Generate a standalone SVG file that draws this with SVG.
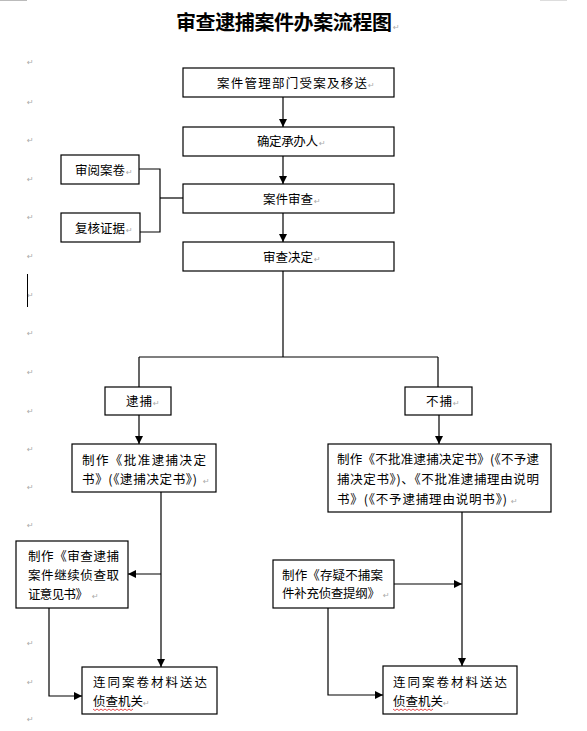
<svg xmlns="http://www.w3.org/2000/svg" width="587" height="731" viewBox="0 0 587 731">
<style>
.bg{fill:#fff}
.box{fill:#fff;stroke:#000;stroke-width:1.2}
.t{font-family:"Noto Sans CJK SC","Noto Sans",sans-serif;font-size:12.5px;fill:#000}
.title{font-family:"Noto Sans CJK SC","Noto Sans",sans-serif;font-size:20px;font-weight:bold;fill:#000}
.pm{font-family:"DejaVu Sans",sans-serif;font-size:8px;fill:#aaa}
.ln{fill:none;stroke:#000;stroke-width:1.2}
.arr{fill:none;stroke:#000;stroke-width:1.2;marker-end:url(#ah)}
.wavy{fill:none;stroke:#e02020;stroke-width:0.8}
</style>
<defs>
<marker id="ah" markerUnits="userSpaceOnUse" markerWidth="8" markerHeight="8" refX="8" refY="4" orient="auto">
<path d="M0,0 L8,4 L0,8 z" fill="#000"/>
</marker>
</defs>
<rect class="bg" x="0" y="0" width="587" height="731"/>
<line x1="0" y1="0.5" x2="27" y2="0.5" stroke="#bbb" stroke-width="1"/>
<line x1="540" y1="0.5" x2="567" y2="0.5" stroke="#ddd" stroke-width="1"/>

<g id="title">
<text class="title" x="176" y="30" textLength="216" lengthAdjust="spacing">审查逮捕案件办案流程图</text>
<text class="pm" x="393" y="30">↵</text>
</g>

<g id="margin-marks">
<text class="pm" x="27" y="65">↵</text>
<text class="pm" x="27" y="105">↵</text>
<text class="pm" x="27" y="143">↵</text>
<text class="pm" x="27" y="182">↵</text>
<text class="pm" x="27" y="220">↵</text>
<text class="pm" x="27" y="259">↵</text>
<text class="pm" x="27" y="298">↵</text>
<text class="pm" x="27" y="336">↵</text>
<text class="pm" x="27" y="375">↵</text>
<text class="pm" x="27" y="414">↵</text>
<text class="pm" x="27" y="452">↵</text>
<text class="pm" x="27" y="490">↵</text>
<text class="pm" x="27" y="528">↵</text>
<text class="pm" x="27" y="646">↵</text>
<text class="pm" x="27" y="685">↵</text>
<text class="pm" x="27" y="722">↵</text>
<line x1="27.5" y1="274" x2="27.5" y2="307" stroke="#000" stroke-width="1"/>
</g>

<g id="connectors">
<path class="arr" d="M283,97 V127"/>
<path class="arr" d="M283,156 V184"/>
<path class="arr" d="M283,213 V242"/>
<path class="ln" d="M139,169 H160 V232 H140"/>
<path class="ln" d="M160,198 H183"/>
<path class="ln" d="M283,271 V357 M139,357 H438 M139,357 V387 M438,357 V387"/>
<path class="arr" d="M139,415 V444"/>
<path class="arr" d="M439,415 V444"/>
<path class="arr" d="M161,492 V667"/>
<path class="arr" d="M161,574 H128"/>
<path class="arr" d="M49,608 V696 H82"/>
<path class="arr" d="M462,512 V666"/>
<path class="arr" d="M394,584 H462"/>
<path class="arr" d="M328,608 V695 H383"/>
</g>

<g id="n-receive">
<rect class="box" x="183" y="68" width="211" height="29"/>
<text class="t" x="217" y="88" textLength="150" lengthAdjust="spacing">案件管理部门受案及移送</text>
<text class="pm" x="368" y="88">↵</text>
</g>
<g id="n-assign">
<rect class="box" x="183" y="127" width="211" height="29"/>
<text class="t" x="257" y="146" textLength="61" lengthAdjust="spacing">确定承办人</text>
<text class="pm" x="319" y="146">↵</text>
</g>
<g id="n-review-file">
<rect class="box" x="61" y="155" width="78" height="29"/>
<text class="t" x="75" y="175" textLength="50" lengthAdjust="spacing">审阅案卷</text>
<text class="pm" x="126" y="175">↵</text>
</g>
<g id="n-case-review">
<rect class="box" x="183" y="184" width="211" height="29"/>
<text class="t" x="263" y="204" textLength="50" lengthAdjust="spacing">案件审查</text>
<text class="pm" x="314" y="204">↵</text>
</g>
<g id="n-recheck">
<rect class="box" x="61" y="213" width="79" height="29"/>
<text class="t" x="75" y="233" textLength="50" lengthAdjust="spacing">复核证据</text>
<text class="pm" x="126" y="233">↵</text>
</g>
<g id="n-decision">
<rect class="box" x="183" y="242" width="211" height="29"/>
<text class="t" x="263" y="262" textLength="50" lengthAdjust="spacing">审查决定</text>
<text class="pm" x="314" y="262">↵</text>
</g>
<g id="n-arrest">
<rect class="box" x="105" y="387" width="66" height="28"/>
<text class="t" x="126" y="406" textLength="26" lengthAdjust="spacing">逮捕</text>
<text class="pm" x="153" y="406">↵</text>
</g>
<g id="n-noarrest">
<rect class="box" x="405" y="387" width="67" height="28"/>
<text class="t" x="426" y="406" textLength="26" lengthAdjust="spacing">不捕</text>
<text class="pm" x="453" y="406">↵</text>
</g>
<g id="n-approve-doc">
<rect class="box" x="72" y="444" width="144" height="48"/>
<text class="t" x="82" y="465" textLength="124" lengthAdjust="spacing">制作《批准逮捕决定</text>
<text class="t" x="82" y="484" textLength="115" lengthAdjust="spacing">书》(《逮捕决定书》)</text>
<text class="pm" x="203" y="484">↵</text>
</g>
<g id="n-continue-doc">
<rect class="box" x="16" y="541" width="112" height="67"/>
<text class="t" x="28" y="561" textLength="91" lengthAdjust="spacing">制作《审查逮捕</text>
<text class="t" x="28" y="580" textLength="91" lengthAdjust="spacing">案件继续侦查取</text>
<text class="t" x="28" y="599" textLength="60" lengthAdjust="spacing">证意见书》</text>
<text class="pm" x="92" y="599">↵</text>
</g>
<g id="n-send-left">
<rect class="box" x="82" y="667" width="135" height="47"/>
<text class="t" x="93" y="687" textLength="114" lengthAdjust="spacing">连同案卷材料送达</text>
<text class="t" x="93" y="706" textLength="50" lengthAdjust="spacing">侦查机关</text>
<path class="wavy" d="M93,709 l2,1.5 l2,-1.5 l2,1.5 l2,-1.5 l2,1.5 l2,-1.5 l2,1.5 l2,-1.5 l2,1.5 l2,-1.5 l2,1.5 l2,-1.5 l2,1.5 l2,-1.5 l2,1.5 l2,-1.5 l2,1.5 l2,-1.5 l2,1.5 l2,-1.5"/>
<text class="pm" x="143" y="706">↵</text>
</g>
<g id="n-reject-doc">
<rect class="box" x="328" y="444" width="223" height="68"/>
<text class="t" x="337" y="464" textLength="202" lengthAdjust="spacing">制作《不批准逮捕决定书》(《不予逮</text>
<text class="t" x="337" y="484" textLength="202" lengthAdjust="spacing">捕决定书》)、《不批准逮捕理由说明</text>
<text class="t" x="337" y="504" textLength="170" lengthAdjust="spacing">书》(《不予逮捕理由说明书》)</text>
<text class="pm" x="511" y="504">↵</text>
</g>
<g id="n-doubt-doc">
<rect class="box" x="273" y="560" width="121" height="48"/>
<text class="t" x="282" y="580" textLength="101" lengthAdjust="spacing">制作《存疑不捕案</text>
<text class="t" x="282" y="598" textLength="98" lengthAdjust="spacing">件补充侦查提纲》</text>
<text class="pm" x="383" y="598">↵</text>
</g>
<g id="n-send-right">
<rect class="box" x="383" y="666" width="134" height="48"/>
<text class="t" x="393" y="687" textLength="114" lengthAdjust="spacing">连同案卷材料送达</text>
<text class="t" x="393" y="706" textLength="50" lengthAdjust="spacing">侦查机关</text>
<path class="wavy" d="M393,709 l2,1.5 l2,-1.5 l2,1.5 l2,-1.5 l2,1.5 l2,-1.5 l2,1.5 l2,-1.5 l2,1.5 l2,-1.5 l2,1.5 l2,-1.5 l2,1.5 l2,-1.5 l2,1.5 l2,-1.5 l2,1.5 l2,-1.5 l2,1.5 l2,-1.5"/>
<text class="pm" x="443" y="706">↵</text>
</g>
</svg>
